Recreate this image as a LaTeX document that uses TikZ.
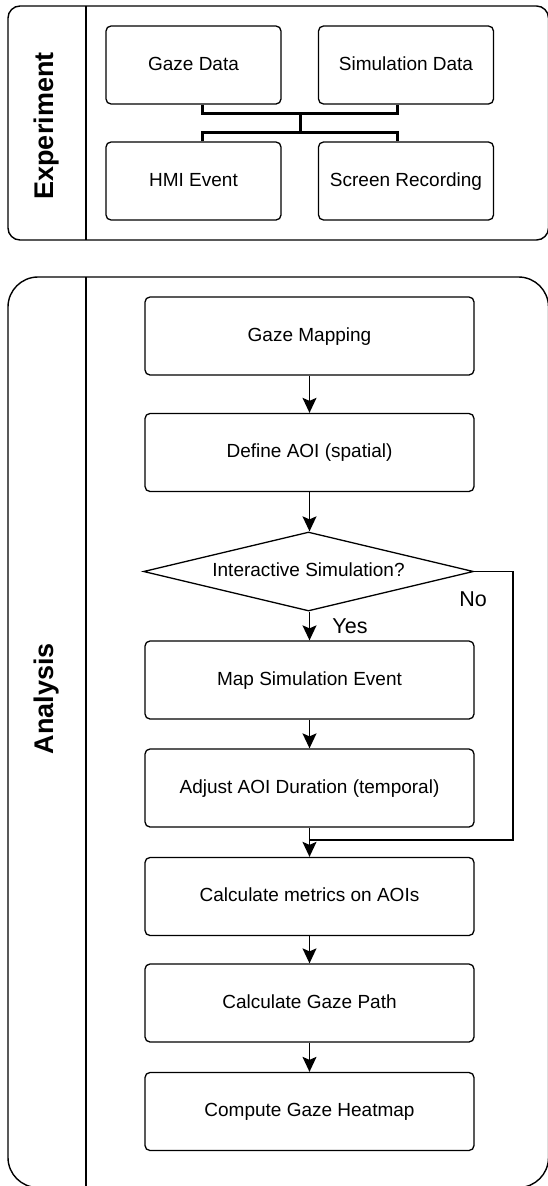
\documentclass[tikz,border=0pt]{standalone}
\usepackage{fontspec}
\setmainfont{Liberation Sans}
\usetikzlibrary{shapes.geometric,arrows.meta}
\begin{document}
\begin{tikzpicture}[x=1pt,y=-1pt,
  panel/.style={draw=black,line width=1.4pt},
  sbox/.style={draw=black,line width=1.3pt,rounded corners=5pt,rectangle,
     minimum width=175pt,minimum height=78pt,inner sep=0pt,
     text height=13.5pt,text depth=3pt,
     font=\fontsize{19}{22}\selectfont},
  abox/.style={draw=black,line width=1.3pt,rounded corners=5pt,rectangle,
     minimum width=329pt,minimum height=78pt,inner sep=0pt,
     text height=13.5pt,text depth=3pt,
     font=\fontsize{19}{22}\selectfont},
  decision/.style={draw=black,line width=1.3pt,diamond,aspect=4.18,inner sep=0pt,
     minimum width=330pt,minimum height=79pt,
     text height=13.5pt,text depth=3pt,font=\fontsize{19}{22}\selectfont},
  lanelbl/.style={rotate=90,font=\fontsize{27}{30}\selectfont\bfseries},
  flow/.style={line width=1.4pt,-{Stealth[length=15pt,width=14pt,inset=3pt]}},
  busline/.style={line width=3pt},
  edgelbl/.style={font=\fontsize{21.5}{24}\selectfont}
]
\useasboundingbox (0,0) rectangle (548,1186);
% Experiment panel
\draw[panel,rounded corners=12pt] (8,6) rectangle (548.5,240);
\draw[panel] (86,6) -- (86,240);
\node[lanelbl] (explbl) at (47,126) {Experiment};
\node[sbox] (gaze) at (193.5,65) {Gaze Data};
\node[sbox] (sim) at (406,65) {Simulation Data};
\node[sbox] (hmi) at (193.5,181) {HMI Event};
\node[sbox] (scr) at (406,181) {Screen Recording};
\coordinate (ga) at (202,113);
\coordinate (sa) at (397,113);
\coordinate (ma) at (300,113);
\coordinate (mb) at (300,132);
\coordinate (hb) at (202,132);
\coordinate (sb) at (397,132);
\draw[busline] (ga |- gaze.south) -- (ga) -- (sa) -- (sa |- sim.south);
\draw[busline] (ma) -- (mb);
\draw[busline] (hb |- hmi.north) -- (hb) -- (sb) -- (sb |- scr.north);
% Analysis panel
\draw[panel,rounded corners=30pt] (8,277) rectangle (548.5,1187.5);
\draw[panel] (86,277) -- (86,1187.5);
\node[lanelbl] (analbl) at (47,698.5) {Analysis};
\node[abox] (gm) at (309.5,336) {Gaze Mapping};
\node[abox] (aoi) at (309.5,452.5) {Define AOI (spatial)};
\node[decision] (dia) at (308.5,571.5) {Interactive Simulation?};
\node[abox] (map) at (309.5,680) {Map Simulation Event};
\node[abox] (adj) at (309.5,788) {Adjust AOI Duration (temporal)};
\node[abox] (calc) at (309.5,896.5) {Calculate metrics on AOIs};
\node[abox] (path) at (309.5,1003) {Calculate Gaze Path};
\node[abox] (heat) at (309.5,1111.5) {Compute Gaze Heatmap};
\draw[flow] (gm) -- (aoi);
\draw[flow] (aoi) -- (dia.north -| aoi.south);
\draw[flow] (dia.south -| map.north) -- (map);
\draw[flow] (map) -- (adj);
\draw[flow] (adj) -- (calc);
\draw[flow] (calc) -- (path);
\draw[flow] (path) -- (heat);
\coordinate (nocorner) at (513,840);
\draw[line width=1.4pt] (dia.east) -| (nocorner) -- (nocorner -| calc.north);
\node[edgelbl] (nolbl) at (473,599) {No};
\node[edgelbl] (yeslbl) at (350,626) {Yes};
\end{tikzpicture}
\end{document}
